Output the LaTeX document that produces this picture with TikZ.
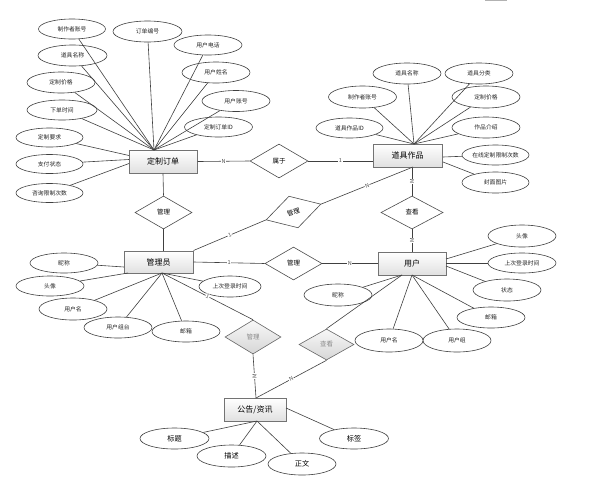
\documentclass[tikz,border=0pt]{standalone}
\usepackage{fontspec}
\setmainfont{Noto Sans CJK SC}
\usetikzlibrary{shapes.geometric}
\begin{document}
\begin{tikzpicture}[x=1pt,y=-1pt,
 ent/.style={rectangle,draw=black!55,line width=1pt,top color=white,bottom color=black!12,minimum width=68pt,minimum height=23pt,inner sep=0pt,font=\fontsize{8}{8}\selectfont},
 attr/.style={ellipse,draw=black!75,line width=0.6pt,fill=white,minimum width=68pt,minimum height=21pt,inner sep=0pt,font=\fontsize{5.8}{6}\selectfont,text=black!85},
 battr/.style={attr,font=\fontsize{7.2}{7.5}\selectfont,text=black},
 rel/.style={diamond,draw=black!70,line width=0.6pt,fill=white,minimum width=58pt,minimum height=34pt,inner sep=0pt,font=\fontsize{6.5}{7}\selectfont},
 grel/.style={rel,top color=black!3,bottom color=black!16,draw=black!60,text=black!45},
 link/.style={draw=black!75,line width=0.6pt},
 card/.style={font=\fontsize{5.5}{5.5}\selectfont,text=black!70,fill=white,inner sep=0.6pt}
]
\useasboundingbox (0,0) rectangle (591,488);
\fill[white] (0,0) rectangle (591,488);
\draw[black!30,line width=1.5pt] (485,0.5) -- (507,0.5);

% entities
\node[ent] (order) at (163,161.5) {定制订单};
\node[ent,minimum width=69pt] (prop) at (407.5,155.5) {道具作品};
\node[ent,minimum width=69pt,minimum height=22pt] (admin) at (158.5,262) {管理员};
\node[ent] (user) at (412,263.5) {用户};
\node[ent,minimum width=62pt] (notice) at (255,409.5) {公告/资讯};

% relations
\node[rel] (r1) at (279,161) {属于};
\node[rel,minimum width=57pt,minimum height=33pt] (r2) at (163.5,212.5) {管理};
\node[rel,minimum width=57pt,minimum height=33pt,rotate=16] (r3) at (293.5,212) {管理};
\node[rel,minimum width=57pt,minimum height=33pt] (r4) at (293.5,263.5) {管理};
\node[rel,minimum width=62pt,minimum height=33pt] (r5) at (412,212.5) {查看};
\node[grel,minimum width=56pt,minimum height=34pt] (r6) at (253,337) {管理};
\node[grel,minimum width=55pt,minimum height=31pt] (r7) at (326.5,344.5) {查看};

% order attributes
\node[attr,minimum width=67pt,minimum height=20pt] (o1) at (72,29) {制作者账号};
\node[attr,minimum width=69pt] (o2) at (147.5,31.5) {订单编号};
\node[attr,minimum height=20pt] (o3) at (208,45) {用户电话};
\node[attr,minimum width=69pt] (o4) at (72.5,55.5) {道具名称};
\node[attr] (o5) at (216,72.5) {用户姓名};
\node[attr] (o6) at (61,82.5) {定制价格};
\node[attr] (o7) at (236,101) {用户账号};
\node[attr,minimum width=70pt,minimum height=20pt] (o8) at (62,110) {下单时间};
\node[attr,minimum height=20pt] (o9) at (218.5,127) {定制订单ID};
\node[attr,minimum width=67pt,minimum height=19pt] (o10) at (49.5,137.5) {定制要求};
\node[attr,minimum width=67pt,minimum height=19pt] (o11) at (49.5,164) {支付状态};
\node[attr,minimum width=67pt,minimum height=19pt] (o12) at (49.5,193) {咨询限制次数};

% prop attributes
\node[attr] (p1) at (407,73.5) {道具名称};
\node[attr] (p2) at (479,73.5) {道具分类};
\node[attr,minimum height=22pt] (p3) at (362.5,97) {制作者账号};
\node[attr,minimum height=22pt] (p4) at (486,97) {定制价格};
\node[attr,minimum width=67pt,minimum height=20pt] (p5) at (349.5,128) {道具作品ID};
\node[attr] (p6) at (486,127.5) {作品介绍};
\node[attr,minimum width=67pt,minimum height=20pt] (p7) at (495.5,155) {在线定制限制次数};
\node[attr,minimum width=67pt] (p8) at (495.5,182.5) {封面图片};

% admin attributes
\node[attr,minimum height=20pt] (a1) at (64,263) {昵称};
\node[attr,minimum height=20pt] (a2) at (50,286) {头像};
\node[attr,minimum height=22pt] (a3) at (73,309) {用户名};
\node[attr] (a4) at (118,327.5) {用户组台};
\node[attr] (a5) at (186,331.5) {邮箱};
\node[attr,minimum width=62pt] (a6) at (230,286.5) {上次登录时间};

% user attributes
\node[attr,minimum height=22pt] (u1) at (522,236) {头像};
\node[attr,minimum height=20pt] (u2) at (522,263) {上次登录时间};
\node[attr,minimum height=22pt] (u3) at (507,290) {状态};
\node[attr] (u4) at (491,317.5) {邮箱};
\node[attr,minimum height=23pt] (u5) at (457,340.5) {用户组};
\node[attr,minimum height=23pt] (u6) at (389,340.5) {用户名};
\node[attr,minimum height=22pt] (u7) at (338,295) {昵称};

% notice attributes
\node[battr,minimum width=69pt] (n1) at (174.5,438.5) {标题};
\node[battr,minimum width=69pt,minimum height=22pt] (n2) at (231.5,456) {描述};
\node[battr,minimum height=22pt] (n3) at (302,464) {正文};
\node[battr,minimum width=69pt] (n4) at (354,438.5) {标签};

% junction coordinates
\coordinate (oc) at (154,150);
\coordinate (oL1) at (129,155.5);
\coordinate (oL2) at (129,159.5);
\coordinate (oL3) at (129,163.5);
\coordinate (pc) at (414,144);
\coordinate (pR1) at (443,157);
\coordinate (pR2) at (443,162);
\coordinate (pb) at (413,167);
\coordinate (aL1) at (124,267);
\coordinate (aL2) at (128,273);
\coordinate (ac) at (162,273);
\coordinate (uR1) at (446,259);
\coordinate (uR2) at (446,263);
\coordinate (uR3) at (446,266);
\coordinate (uA) at (412,275);
\coordinate (uB) at (402,275);
\coordinate (nb) at (257,421);
\coordinate (nr) at (286,408);
\coordinate (nt) at (256,398);

% attribute links
\foreach \n in {o1,o2,o3,o4,o5,o6,o7,o8,o9} \draw[link] (oc) -- (\n);
\draw[link] (oL1) -- (o10);
\draw[link] (oL2) -- (o11);
\draw[link] (oL3) -- (o12);
\foreach \n in {p1,p2,p3,p4,p5,p6} \draw[link] (pc) -- (\n);
\draw[link] (pR1) -- (p7);
\draw[link] (pR2) -- (p8);
\draw[link] (aL1) -- (a1);
\draw[link] (aL2) -- (a2);
\foreach \n in {a3,a4,a5,a6} \draw[link] (ac) -- (\n);
\draw[link] (uR1) -- (u1);
\draw[link] (uR2) -- (u2);
\draw[link] (uR3) -- (u3);
\foreach \n in {u4,u5,u6} \draw[link] (uA) -- (\n);
\draw[link] (uB) -- (u7);
\foreach \n in {n1,n2,n3} \draw[link] (nb) -- (\n);
\draw[link] (nr) -- (n4);

% relationship links
\draw[link] (order.east) -- (r1.west) node[card,midway] {N};
\draw[link] (r1.east) -- (r1.east -| prop.west) node[card,midway] {1};
\draw[link] (order.south) -- (r2.north);
\draw[link] (r2.south) -- (r2.south |- admin.north);
\draw[link] (admin.north east) -- (r3.west) node[card,midway,sloped] {1};
\draw[link] (r3.east) -- (pb) node[card,pos=0.5,sloped] {N};
\draw[link] (admin.east) -- (r4.west) node[card,midway] {1};
\draw[link] (r4.east) -- (user.west) node[card,midway] {N};
\draw[link] (r5.north |- prop.south) -- (r5.north) node[card,midway,rotate=90] {M};
\draw[link] (r5.south) -- (user.north) node[card,midway,rotate=90] {M};
\draw[link] (ac) -- (r6.north) node[card,pos=0.5,sloped] {1};
\draw[link] (r6.south) -- (nt) node[card,midway,rotate=90] {M};
\draw[link] (uB) -- (r7.north);
\draw[link] (r7.south) -- (nt) node[card,midway,sloped] {N};
\end{tikzpicture}
\end{document}
